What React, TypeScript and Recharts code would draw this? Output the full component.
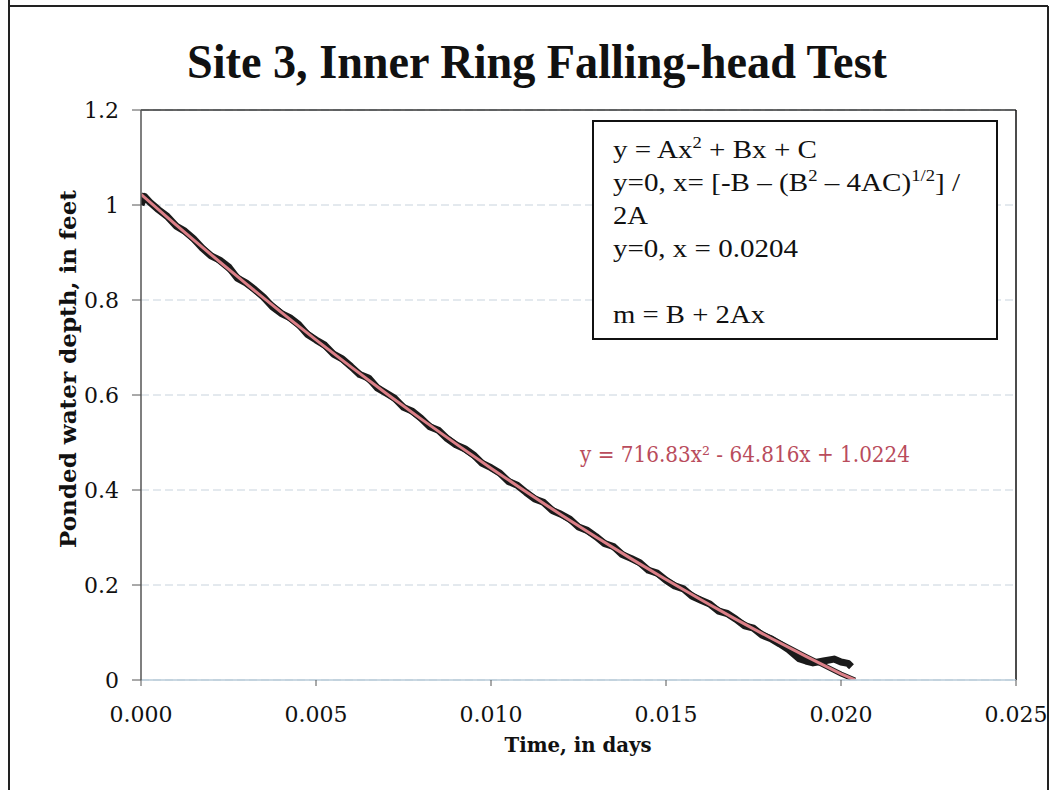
import React from 'react';
import { ComposedChart, Line, XAxis, YAxis, CartesianGrid, ReferenceLine } from 'recharts';

const timeDays = [0, 0.0001, 0.00025, 0.0005, 0.00075, 0.001, 0.00125, 0.0015, 0.00175, 0.002,
  0.00225, 0.0025, 0.00275, 0.003, 0.00325, 0.0035, 0.00375, 0.004, 0.00425, 0.0045, 0.00475, 0.005,
  0.00525, 0.0055, 0.00575, 0.006, 0.00625, 0.0065, 0.00675, 0.007, 0.00725, 0.0075, 0.00775, 0.008,
  0.00825, 0.0085, 0.00875, 0.009, 0.00925, 0.0095, 0.00975, 0.01,
  0.01025, 0.0105, 0.01075, 0.011, 0.01125, 0.0115, 0.01175, 0.012, 0.01225, 0.0125, 0.01275, 0.013,
  0.01325, 0.0135, 0.01375, 0.014, 0.01425, 0.0145, 0.01475, 0.015,
  0.01525, 0.0155, 0.01575, 0.016, 0.01625, 0.0165, 0.01675, 0.017, 0.01725, 0.0175, 0.01775, 0.018,
  0.01825, 0.0185, 0.0188, 0.019, 0.0192, 0.0195, 0.0198, 0.02, 0.0202, 0.0203];
const depthFeet = [1.0, 1.018, 1.006, 0.990, 0.976, 0.956, 0.945, 0.929, 0.909, 0.893,
  0.884, 0.870, 0.846, 0.836, 0.822, 0.806, 0.786, 0.772, 0.763, 0.749, 0.728, 0.716,
  0.705, 0.686, 0.676, 0.660, 0.643, 0.636, 0.615, 0.604, 0.593, 0.574, 0.566, 0.551,
  0.533, 0.526, 0.508, 0.495, 0.487, 0.474, 0.456, 0.447,
  0.436, 0.418, 0.410, 0.395, 0.381, 0.374, 0.357, 0.349, 0.339, 0.322, 0.315, 0.302,
  0.287, 0.281, 0.264, 0.256, 0.247, 0.231, 0.225, 0.210,
  0.198, 0.192, 0.176, 0.168, 0.160, 0.145, 0.140, 0.128, 0.114, 0.109, 0.094, 0.087,
  0.076, 0.064, 0.045, 0.040, 0.036, 0.040, 0.044, 0.038, 0.035, 0.028];

// Polynomial trendline
const trendTime = [0, 0.001, 0.002, 0.003, 0.004, 0.005, 0.006, 0.007, 0.008, 0.009, 0.010,
  0.011, 0.012, 0.013, 0.014, 0.015, 0.016, 0.017, 0.018, 0.019, 0.020, 0.0204];
const trendDepth = [1.0224, 0.9583, 0.8956, 0.8344, 0.7746, 0.7162, 0.6593, 0.6038, 0.5497, 0.4971, 0.4459,
  0.3962, 0.3478, 0.3009, 0.2555, 0.2114, 0.1689, 0.1277, 0.0880, 0.0497, 0.0128, 0.0];

const xTicks = [0, 0.005, 0.01, 0.015, 0.02, 0.025];
const yTicks = [0, 0.2, 0.4, 0.6, 0.8, 1, 1.2];

const titleText = 'Site 3, Inner Ring Falling-head Test';
const xLabel = 'Time, in days';
const yLabel = 'Ponded water depth, in feet';
const trendLabel = 'y = 716.83x² - 64.816x + 1.0224';

const observed = timeDays.map((x, i) => ({ x, y: depthFeet[i] }));
const trend = trendTime.map((x, i) => ({ x, y: trendDepth[i] }));

const tickFont = { fill: '#111', fontSize: 22, fontFamily: 'DejaVu Serif' };

export default function App() {
  return (
    <div style={{ position: 'absolute', left: 0, top: 0, width: 1052, height: 790, background: '#fff' }}>
      <ComposedChart width={1052} height={790} margin={{ top: 110, right: 36, bottom: 80, left: 81 }}>
        <CartesianGrid horizontal vertical={false} stroke="#c8d3dd" strokeDasharray="8 4" />
        <XAxis
          type="number"
          dataKey="x"
          domain={[0, 0.025]}
          ticks={xTicks}
          tickFormatter={(v: number) => v.toFixed(3)}
          height={30}
          axisLine={{ stroke: '#b9cbd9', strokeWidth: 1.5 }}
          tickLine={{ stroke: '#555' }}
          tickSize={6}
          tickMargin={20}
          tick={tickFont}
          allowDataOverflow
        />
        <YAxis
          type="number"
          dataKey="y"
          domain={[0, 1.2]}
          ticks={yTicks}
          tickFormatter={(v: number) => String(Math.round(v * 10) / 10)}
          width={60}
          axisLine={{ stroke: '#555', strokeWidth: 1.5 }}
          tickLine={{ stroke: '#555' }}
          tickSize={9}
          tickMargin={13}
          tick={tickFont}
          allowDataOverflow
        />
        <ReferenceLine y={1.2} stroke="#333" strokeWidth={1.5} />
        <ReferenceLine x={0.025} stroke="#111" strokeWidth={1.5} />
        <Line data={trend} dataKey="y" type="linear" stroke="#1a1a1a" strokeWidth={5} dot={false} isAnimationActive={false} />
        <Line data={observed} dataKey="y" type="linear" stroke="#1a1a1a" strokeWidth={7} strokeLinejoin="round" dot={false} isAnimationActive={false} />
        <Line data={trend} dataKey="y" type="linear" stroke="#dc8088" strokeWidth={3} dot={false} isAnimationActive={false} />
      </ComposedChart>
      <svg width={1052} height={790} style={{ position: 'absolute', left: 0, top: 0, pointerEvents: 'none' }}>
        <line x1={9} y1={0} x2={9} y2={790} stroke="#222" strokeWidth={2} />
        <line x1={9} y1={6} x2={1048} y2={6} stroke="#222" strokeWidth={2} />
        <line x1={1048} y1={6} x2={1048} y2={790} stroke="#222" strokeWidth={2} />
        <text x={537} y={78} textAnchor="middle" fontFamily="Liberation Serif" fontWeight="bold" fontSize={48}
          textLength={700} lengthAdjust="spacingAndGlyphs" fill="#111">{titleText}</text>
        <text x={578} y={752} textAnchor="middle" fontFamily="DejaVu Serif" fontWeight="bold" fontSize={21}
          textLength={147} lengthAdjust="spacingAndGlyphs" fill="#111">{xLabel}</text>
        <text x={0} y={0} transform="translate(76,369) rotate(-90)" textAnchor="middle" fontFamily="DejaVu Serif"
          fontWeight="bold" fontSize={22} textLength={358} lengthAdjust="spacingAndGlyphs" fill="#111">{yLabel}</text>
        <text x={580} y={462} fontFamily="DejaVu Serif" fontSize={22} fill="#b94c5c" textLength={330} lengthAdjust="spacingAndGlyphs">
          {trendLabel}
        </text>
        <rect x={593} y={121} width={404} height={218} fill="#fff" stroke="#111" strokeWidth={2} />
        <g fontFamily="Liberation Serif" fontSize={25} fill="#111">
          <text x={613} y={158} textLength={204} lengthAdjust="spacingAndGlyphs">
            y = Ax<tspan dy={-10} fontSize={16}>2</tspan><tspan dy={10}> + Bx + C</tspan>
          </text>
          <text x={613} y={191} textLength={347} lengthAdjust="spacingAndGlyphs">
            y=0, x= [-B – (B<tspan dy={-10} fontSize={16}>2</tspan><tspan dy={10}> – 4AC)</tspan><tspan dy={-10} fontSize={16}>1/2</tspan><tspan dy={10}>] /</tspan>
          </text>
          <text x={613} y={224} textLength={35} lengthAdjust="spacingAndGlyphs">2A</text>
          <text x={613} y={257} textLength={185} lengthAdjust="spacingAndGlyphs">y=0, x = 0.0204</text>
          <text x={613} y={323} textLength={152} lengthAdjust="spacingAndGlyphs">m = B + 2Ax</text>
        </g>
      </svg>
    </div>
  );
}
